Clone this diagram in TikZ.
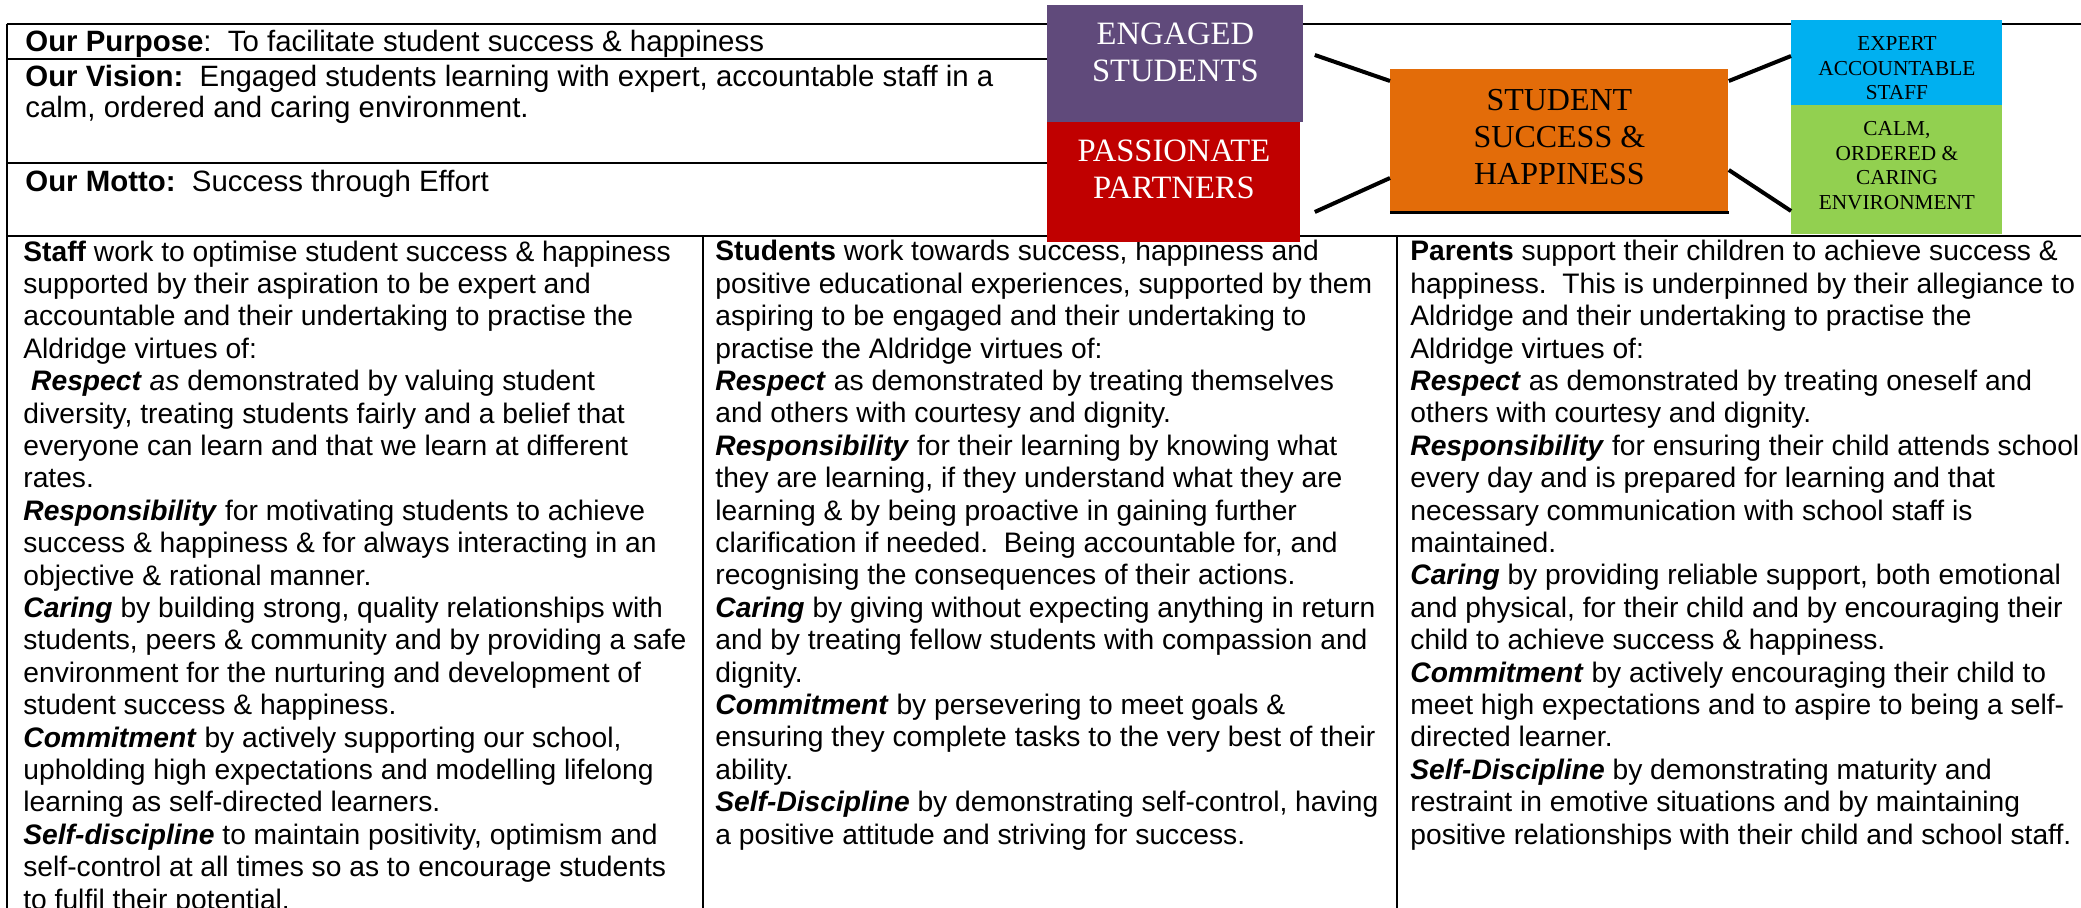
\documentclass[tikz,border=0pt]{standalone}
\usepackage{fontspec}
\setmainfont{Liberation Sans}
\newfontfamily\boxfont{Liberation Serif}
\usetikzlibrary{calc}
\definecolor{cpurple}{HTML}{604A7B}
\definecolor{cred}{HTML}{C00000}
\definecolor{corange}{HTML}{E36C09}
\definecolor{cblue}{HTML}{00B0F0}
\definecolor{cgreen}{HTML}{92D050}
\newcommand{\vt}[1]{\textbf{\textit{#1}}}
% note: for these multi-line nodes the base anchor is the baseline of the LAST line
\tikzset{
  rule/.style={line width=0.8pt},
  bodytxt/.style={anchor=base west, inner sep=0pt, align=left, font=\fontsize{14.1}{16.2}\selectfont},
  headtxt/.style={anchor=base west, inner sep=0pt, align=left, font=\fontsize{14.7}{15.5}\selectfont},
  cbox/.style={rectangle, inner sep=0pt, anchor=north west},
  bigtxt/.style={anchor=base, inner sep=0pt, align=center, font=\boxfont\fontsize{16.3}{18.5}\selectfont},
  smalltxt/.style={anchor=base, inner sep=0pt, align=center, font=\boxfont\fontsize{10.65}{12.25}\selectfont},
  link/.style={line width=2pt},
}
\begin{document}
\begin{tikzpicture}[x=0.5pt,y=-0.5pt]
\useasboundingbox (0,0) rectangle (2081,908);
\clip (0,0) rectangle (2081,908);
% table rules
\draw[rule] (6.6,24) -- (2081,24);
\draw[rule] (7,24) -- (7,908);
\draw[rule] (7,59) -- (1048,59);
\draw[rule] (7,163) -- (1048,163);
\draw[rule] (7,236) -- (2081,236);
\draw[rule] (703,236) -- (703,908);
\draw[rule] (1397,236) -- (1397,908);
% header texts
\node[headtxt] (purpose) at (25,52) {\textbf{Our Purpose}:\ \ To facilitate student success \& happiness};
\node[headtxt] (vision) at (25,118) {\textbf{Our Vision:}\ \ Engaged students learning with expert, accountable staff in a\\calm, ordered and caring environment.};
\node[headtxt] (motto) at (25,192) {\textbf{Our Motto:}\ \ Success through Effort};
% columns (positions are the last line's baseline)
\node[bodytxt] (staff) at (23,909) {\textbf{Staff} work to optimise student success \& happiness\\
supported by their aspiration to be expert and\\
accountable and their undertaking to practise the\\
Aldridge virtues of:\\
\ \vt{Respect} \textit{as} demonstrated by valuing student\\
diversity, treating students fairly and a belief that\\
everyone can learn and that we learn at different\\
rates.\\
\vt{Responsibility} for motivating students to achieve\\
success \& happiness \& for always interacting in an\\
objective \& rational manner.\\
\vt{Caring} by building strong, quality relationships with\\
students, peers \& community and by providing a safe\\
environment for the nurturing and development of\\
student success \& happiness.\\
\vt{Commitment} by actively supporting our school,\\
upholding high expectations and modelling lifelong\\
learning as self-directed learners.\\
\vt{Self-discipline} to maintain positivity, optimism and\\
self-control at all times so as to encourage students\\
to fulfil their potential.};
\node[bodytxt] (students) at (715,844) {\textbf{Students} work towards success, happiness and\\
positive educational experiences, supported by them\\
aspiring to be engaged and their undertaking to\\
practise the Aldridge virtues of:\\
\vt{Respect} as demonstrated by treating themselves\\
and others with courtesy and dignity.\\
\vt{Responsibility} for their learning by knowing what\\
they are learning, if they understand what they are\\
learning \& by being proactive in gaining further\\
clarification if needed.\ \ Being accountable for, and\\
recognising the consequences of their actions.\\
\vt{Caring} by giving without expecting anything in return\\
and by treating fellow students with compassion and\\
dignity.\\
\vt{Commitment} by persevering to meet goals \&\\
ensuring they complete tasks to the very best of their\\
ability.\\
\vt{Self-Discipline} by demonstrating self-control, having\\
a positive attitude and striving for success.};
\node[bodytxt] (parents) at (1410,844) {\textbf{Parents} support their children to achieve success \&\\
happiness.\ \ This is underpinned by their allegiance to\\
Aldridge and their undertaking to practise the\\
Aldridge virtues of:\\
\vt{Respect} as demonstrated by treating oneself and\\
others with courtesy and dignity.\\
\vt{Responsibility} for ensuring their child attends school\\
every day and is prepared for learning and that\\
necessary communication with school staff is\\
maintained.\\
\vt{Caring} by providing reliable support, both emotional\\
and physical, for their child and by encouraging their\\
child to achieve success \& happiness.\\
\vt{Commitment} by actively encouraging their child to\\
meet high expectations and to aspire to being a self-\\
directed learner.\\
\vt{Self-Discipline} by demonstrating maturity and\\
restraint in emotive situations and by maintaining\\
positive relationships with their child and school staff.};
% coloured boxes
\node[cbox, fill=cpurple, minimum width=128pt, minimum height=58.5pt] (eng) at (1047,5) {};
\node[cbox, fill=cred, minimum width=126.5pt, minimum height=60pt] (pas) at (1047,122) {};
\node[cbox, fill=corange, minimum width=169pt, minimum height=71.5pt] (ssh) at (1390,69) {};
\draw[line width=1.3pt] (ssh.south west) -- (ssh.south east);
\node[cbox, fill=cblue, minimum width=105.5pt, minimum height=42.5pt] (exp) at (1791,20) {};
\node[cbox, fill=cgreen, minimum width=105.5pt, minimum height=64.5pt] (calm) at (1791,105) {};
% labels (positions are the last line's baseline)
\node[bigtxt, text=white] (englbl) at ($(eng.north)+(0,77)$) {ENGAGED\\STUDENTS};
\node[bigtxt, text=white] (paslbl) at ($(pas.north)+(0,77)$) {PASSIONATE\\PARTNERS};
\node[bigtxt, font=\boxfont\fontsize{16}{18.5}\selectfont] (sshlbl) at ($(ssh.north)+(0,116)$) {STUDENT\\SUCCESS \&\\HAPPINESS};
\node[smalltxt] (explbl) at ($(exp.north)+(0,80)$) {EXPERT\\ACCOUNTABLE\\STAFF};
\node[smalltxt] (calmlbl) at ($(calm.north)+(0,104.5)$) {CALM,\\ORDERED \&\\CARING\\ENVIRONMENT};
% connectors
\coordinate (e1) at ($(eng.north east)+(11,50)$);
\coordinate (p1) at ($(pas.north east)+(14,90)$);
\draw[link] (e1) -- ($(ssh.north west)+(0,12)$);
\draw[link] (p1) -- ($(ssh.north west)+(0,109)$);
\draw[link] ($(ssh.north east)+(0,12)$) -- ($(exp.north west)+(0,36)$);
\draw[link] ($(ssh.north east)+(0,101)$) -- ($(calm.north west)+(0,106)$);
\end{tikzpicture}
\end{document}
